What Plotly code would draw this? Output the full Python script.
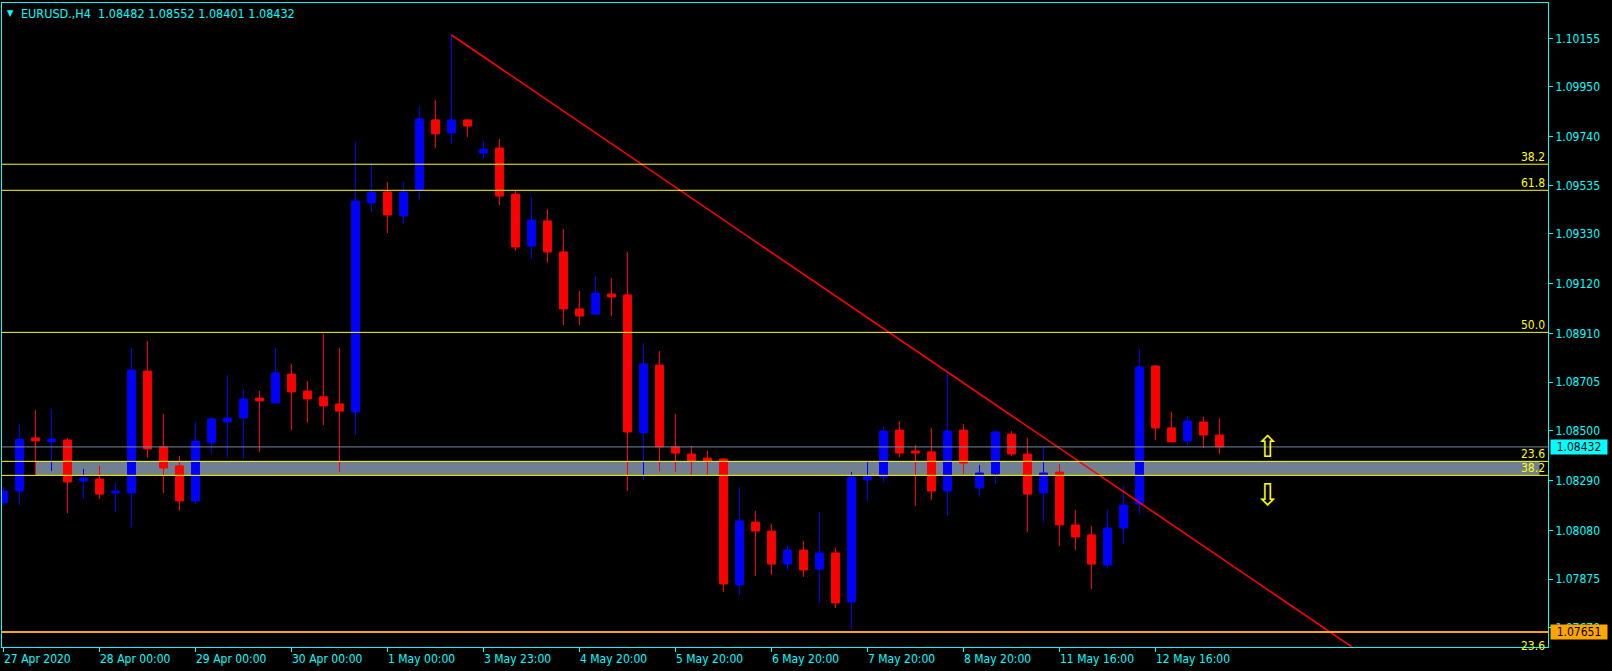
import plotly.graph_objects as go

# ---------------- data ----------------
bar_index = list(range(77))
opens = [1.08196, 1.08246, 1.08470, 1.08453, 1.08461, 1.08288, 1.08297, 1.08238, 1.08238, 1.08752,
         1.08432, 1.08352, 1.08204, 1.08449, 1.08537, 1.08554, 1.08638, 1.08617, 1.08739, 1.08668,
         1.08643, 1.08613, 1.08579, 1.09461, 1.09507, 1.09406, 1.09515, 1.09811, 1.09756, 1.09811,
         1.09671, 1.09692, 1.09498, 1.09279, 1.09385, 1.09254, 1.09014, 1.08992, 1.09077, 1.09073,
         1.08491, 1.08777, 1.08432, 1.08402, 1.08385, 1.08381, 1.07850, 1.08115, 1.08077, 1.07938,
         1.07997, 1.07917, 1.07985, 1.07778, 1.08293, 1.08305, 1.08503, 1.08415, 1.08411, 1.08246,
         1.08503, 1.08259, 1.08318, 1.08486, 1.08402, 1.08238, 1.08326, 1.08103, 1.08061, 1.07934,
         1.08090, 1.08191, 1.08773, 1.08512, 1.08457, 1.08537, 1.08482]
highs = [1.08263, 1.08529, 1.08588, 1.08592, 1.08470, 1.08339, 1.08352, 1.08280, 1.08849, 1.08879,
         1.08571, 1.08394, 1.08537, 1.08558, 1.08735, 1.08676, 1.08668, 1.08849, 1.08782, 1.08710,
         1.08908, 1.08849, 1.09718, 1.09629, 1.09549, 1.09549, 1.09870, 1.09895, 1.10169, 1.09815,
         1.09722, 1.09730, 1.09511, 1.09486, 1.09435, 1.09351, 1.09089, 1.09153, 1.09144, 1.09254,
         1.08870, 1.08836, 1.08571, 1.08436, 1.08415, 1.08385, 1.08263, 1.08162, 1.08107, 1.08018,
         1.08035, 1.08158, 1.08006, 1.08326, 1.08368, 1.08520, 1.08541, 1.08440, 1.08512, 1.08744,
         1.08529, 1.08356, 1.08499, 1.08499, 1.08470, 1.08432, 1.08360, 1.08166, 1.08099, 1.08166,
         1.08267, 1.08845, 1.08777, 1.08579, 1.08562, 1.08558, 1.08552]
lows = [1.08187, 1.08187, 1.08318, 1.08330, 1.08153, 1.08212, 1.08212, 1.08158, 1.08094, 1.08385,
        1.08238, 1.08162, 1.08191, 1.08402, 1.08385, 1.08381, 1.08411, 1.08617, 1.08503, 1.08533,
        1.08524, 1.08326, 1.08482, 1.09423, 1.09334, 1.09372, 1.09477, 1.09692, 1.09709, 1.09739,
        1.09646, 1.09452, 1.09258, 1.09224, 1.09208, 1.08946, 1.08946, 1.08988, 1.08984, 1.08246,
        1.08293, 1.08330, 1.08326, 1.08314, 1.08314, 1.07820, 1.07808, 1.07888, 1.07892, 1.07913,
        1.07884, 1.07774, 1.07753, 1.07660, 1.08204, 1.08284, 1.08389, 1.08183, 1.08208, 1.08141,
        1.08318, 1.08221, 1.08276, 1.08394, 1.08073, 1.08115, 1.08014, 1.07997, 1.07833, 1.07917,
        1.08023, 1.08149, 1.08461, 1.08453, 1.08440, 1.08427, 1.08401]
closes = [1.08246, 1.08465, 1.08457, 1.08465, 1.08284, 1.08301, 1.08233, 1.08246, 1.08756, 1.08423,
          1.08343, 1.08204, 1.08457, 1.08550, 1.08554, 1.08634, 1.08626, 1.08744, 1.08664, 1.08634,
          1.08605, 1.08583, 1.09469, 1.09507, 1.09410, 1.09507, 1.09815, 1.09752, 1.09811, 1.09785,
          1.09688, 1.09490, 1.09275, 1.09389, 1.09254, 1.09014, 1.08984, 1.09081, 1.09064, 1.08495,
          1.08782, 1.08432, 1.08406, 1.08373, 1.08373, 1.07854, 1.08120, 1.08077, 1.07938, 1.07997,
          1.07913, 1.07985, 1.07774, 1.08305, 1.08309, 1.08499, 1.08406, 1.08406, 1.08246, 1.08499,
          1.08364, 1.08322, 1.08495, 1.08402, 1.08233, 1.08322, 1.08103, 1.08052, 1.07938, 1.08090,
          1.08187, 1.08769, 1.08512, 1.08453, 1.08541, 1.08482, 1.08432]

date_tick_index = [0, 6, 12, 18, 24, 30, 36, 42, 48, 54, 60, 66, 72]
date_tick_labels = ["27 Apr 2020", "28 Apr 00:00", "29 Apr 00:00", "30 Apr 00:00", "1 May 00:00",
                    "3 May 23:00", "4 May 20:00", "5 May 20:00", "6 May 20:00", "7 May 20:00",
                    "8 May 20:00", "11 May 16:00", "12 May 16:00"]
price_ticks = [1.10155, 1.09950, 1.09740, 1.09535, 1.09330, 1.09120, 1.08910,
               1.08705, 1.08500, 1.08290, 1.08080, 1.07875, 1.07670]

fib_levels = [1.09624, 1.09514, 1.08915, 1.08371, 1.08312]
fib_labels = ["38.2", "61.8", "50.0", "23.6", "38.2"]
zone_x = [2, 96]
zone_y = [1.08312, 1.08371]
bid_price = 1.08432
support_price = 1.07651
trend_x = [28, 90]
trend_y = [1.10169, 1.07326]
arrow_x = [79, 79]
arrow_y = [1.08432, 1.08232]
arrow_chars = ["⇧", "⇩"]
header = "EURUSD.,H4  1.08482 1.08552 1.08401 1.08432"

# ---------------- figure ----------------
CYAN = "#00FFFF"
YEL = "#FFFF00"
FONT = "DejaVu Sans Condensed, DejaVu Sans, sans-serif"

fig = go.Figure()

fig.add_trace(go.Candlestick(
    x=bar_index, open=opens, high=highs, low=lows, close=closes,
    increasing=dict(line=dict(color="#0000FF", width=1), fillcolor="#0000FF"),
    decreasing=dict(line=dict(color="#FF0000", width=1), fillcolor="#FF0000"),
    whiskerwidth=0, showlegend=False, hoverinfo="skip",
))

fig.add_trace(go.Scatter(
    x=trend_x, y=trend_y, mode="lines",
    line=dict(color="#FF0000", width=1.6), showlegend=False, hoverinfo="skip",
))

shapes = []
shapes.append(dict(type="rect", xref="x", yref="y", x0=zone_x[0], x1=zone_x[1],
                   y0=zone_y[0], y1=zone_y[1], fillcolor="#708090",
                   line=dict(width=0), layer="below"))
for lv in fib_levels:
    shapes.append(dict(type="line", xref="paper", yref="y", x0=0, x1=1, y0=lv, y1=lv,
                       line=dict(color=YEL, width=1), layer="above"))
shapes.append(dict(type="line", xref="paper", yref="y", x0=0, x1=1, y0=bid_price, y1=bid_price,
                   line=dict(color="#778899", width=1), layer="above"))
shapes.append(dict(type="line", xref="paper", yref="y", x0=0, x1=1, y0=support_price, y1=support_price,
                   line=dict(color="#FFA500", width=2), layer="above"))

annotations = []
for lv, lb in zip(fib_levels, fib_labels):
    annotations.append(dict(xref="paper", yref="y", x=1, y=lv, text=lb, showarrow=False,
                            xanchor="right", yanchor="bottom", xshift=-1, yshift=-2,
                            font=dict(family=FONT, size=12, color=YEL)))
annotations.append(dict(xref="paper", yref="paper", x=1, y=0, text="23.6", showarrow=False,
                        xanchor="right", yanchor="bottom", xshift=-1, yshift=-8,
                        font=dict(family=FONT, size=12, color=YEL)))
for ix, lb in zip(date_tick_index, date_tick_labels):
    annotations.append(dict(xref="x", yref="paper", x=ix, y=0, text=lb, showarrow=False,
                            xanchor="left", yanchor="top", xshift=-2, yshift=-3,
                            font=dict(family=FONT, size=12, color=CYAN)))
annotations.append(dict(xref="paper", yref="y", x=1, y=bid_price, text="1.08432", showarrow=False,
                        xanchor="left", yanchor="middle", xshift=2, width=54, height=12,
                        borderpad=1, bgcolor=CYAN, font=dict(family=FONT, size=12, color="#000000")))
annotations.append(dict(xref="paper", yref="y", x=1, y=support_price, text="1.07651", showarrow=False,
                        xanchor="left", yanchor="middle", xshift=2, width=54, height=12,
                        borderpad=1, bgcolor="#FFA500", font=dict(family=FONT, size=12, color="#000000")))
for ax_, ay_, ch in zip(arrow_x, arrow_y, arrow_chars):
    annotations.append(dict(xref="x", yref="y", x=ax_, y=ay_, text=ch, showarrow=False,
                            xanchor="center", yanchor="middle",
                            font=dict(family="DejaVu Sans", size=30, color=YEL)))
annotations.append(dict(xref="paper", yref="paper", x=0, y=1, text="▼", showarrow=False,
                        xanchor="left", yanchor="top", xshift=3, yshift=-3,
                        font=dict(family=FONT, size=9, color=CYAN)))
annotations.append(dict(xref="paper", yref="paper", x=0, y=1, text=header, showarrow=False,
                        xanchor="left", yanchor="top", xshift=17, yshift=-1,
                        font=dict(family=FONT, size=12.5, color=CYAN)))

fig.update_layout(
    width=1612, height=671,
    margin=dict(l=2, r=64, t=3, b=24, autoexpand=False),
    paper_bgcolor="#000000", plot_bgcolor="#000000",
    shapes=shapes, annotations=annotations,
    showlegend=False, hovermode=False,
    xaxis=dict(range=[-0.09375, 96.53125], rangeslider=dict(visible=False),
               showgrid=False, zeroline=False, showline=True, linecolor=CYAN, linewidth=1,
               mirror=True, ticks="outside", ticklen=4, tickcolor=CYAN,
               tickvals=date_tick_index, showticklabels=False),
    yaxis=dict(range=[1.0758825, 1.1030385], side="right",
               showgrid=False, zeroline=False, showline=True, linecolor=CYAN, linewidth=1,
               mirror=True, ticks="outside", ticklen=4, tickcolor=CYAN,
               tickvals=price_ticks, ticktext=[f"{v:.5f}" for v in price_ticks],
               tickfont=dict(family=FONT, size=12, color=CYAN)),
)

fig.write_html("out.html", config={"displayModeBar": False},
               post_script="document.body.style.margin='0';document.body.style.background='#000';")
